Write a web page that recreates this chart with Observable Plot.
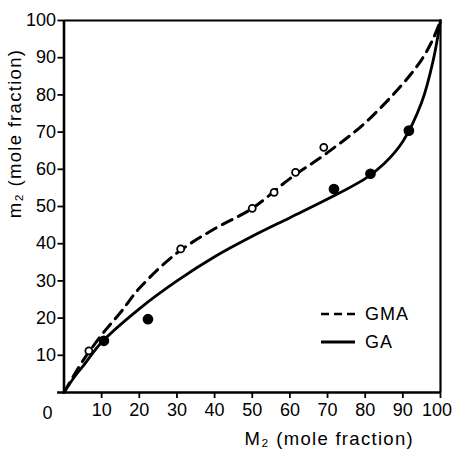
<!DOCTYPE html>
<html>
<head>
<meta charset="utf-8">
<script src="https://cdn.jsdelivr.net/npm/d3@7"></script>
<script src="https://cdn.jsdelivr.net/npm/@observablehq/plot@0.6"></script>
<style>
  html, body { margin: 0; padding: 0; background: #fff; }
  #wrap { position: relative; width: 454px; height: 450px; font-family: "Liberation Sans", Arial, sans-serif; }
  #legend { position: absolute; left: 320px; top: 300px; font-size: 18px; letter-spacing: 1px; color: #000; }
  #legend .row { display: flex; align-items: center; height: 28px; }
  #legend svg { display: block; margin-right: 9px; }
</style>
</head>
<body>
<div id="wrap"></div>
<script>
// Series names
const seriesNames = ["GMA", "GA"];

// Fitted curves
const gmaCurveX = [0, 2, 5, 10, 15, 20, 30, 40, 50, 60, 70, 80, 90, 95, 98, 100];
const gmaCurveY = [0, 3.5, 8.5, 15.5, 21.5, 28, 37.5, 44, 49.5, 57.5, 64.5, 72.5, 83, 89.5, 95, 100];
const gaCurveX  = [0, 3, 5, 10, 20, 30, 40, 50, 60, 70, 80, 85, 90, 95, 98, 100];
const gaCurveY  = [0, 4.5, 7, 13.5, 22.5, 30, 36.5, 42, 47, 52, 57.5, 61.5, 67.5, 78, 89, 100];

// Measured points
const gmaPtsX = [6.6, 31, 50, 55.8, 61.5, 69];
const gmaPtsY = [11.2, 38.6, 49.5, 53.8, 59.2, 65.9];
const gaPtsX  = [10.6, 22.3, 71.7, 81.4, 91.6];
const gaPtsY  = [13.9, 19.7, 54.7, 58.8, 70.4];

// Tick labels
const xTicks = [10, 20, 30, 40, 50, 60, 70, 80, 90, 100];
const yTicks = [10, 20, 30, 40, 50, 60, 70, 80, 90, 100];
const originLabel = "0";
const xLabel = "M\u2082 (mole fraction)";
const yLabel = "m\u2082 (mole fraction)";

const gmaCurve = gmaCurveX.map((x, i) => ({x, y: gmaCurveY[i]}));
const gaCurve = gaCurveX.map((x, i) => ({x, y: gaCurveY[i]}));
const gmaPts = gmaPtsX.map((x, i) => ({x, y: gmaPtsY[i]}));
const gaPts = gaPtsX.map((x, i) => ({x, y: gaPtsY[i]}));

const FS = 18;
const lastX = xTicks[xTicks.length - 1];
const chart = Plot.plot({
  width: 454,
  height: 450,
  marginLeft: 63.5,
  marginRight: 14,
  marginTop: 20,
  marginBottom: 58,
  style: {fontFamily: "Liberation Sans, Arial, sans-serif", fontSize: FS + "px", color: "#000", background: "#fff"},
  x: {domain: [0, 100]},
  y: {domain: [0, 100]},
  marks: [
    Plot.axisX({ticks: xTicks, tickSize: 6, tickPadding: 5, label: null, strokeWidth: 1.8, fontSize: FS,
                tickFormat: d => d === lastX ? "" : d}),
    Plot.axisX({ticks: [lastX], tickSize: 0, tickPadding: 11, label: null, fontSize: FS, dx: -3.5}),
    Plot.axisY({ticks: yTicks, tickSize: 6, tickPadding: 2, label: null, strokeWidth: 1.8, fontSize: FS}),
    Plot.ruleY([100], {x1: 0, x2: 100, strokeWidth: 2}),
    Plot.ruleX([100], {y1: 0, y2: 100, strokeWidth: 2.2}),
    Plot.ruleX([0], {y1: 0, y2: 100, strokeWidth: 2.6}),
    Plot.ruleY([0], {x1: -1.7, x2: 100, strokeWidth: 2.6}),
    Plot.line(gmaCurve, {x: "x", y: "y", curve: "catmull-rom", stroke: "#000", strokeWidth: 3, strokeDasharray: "11,7"}),
    Plot.line(gaCurve, {x: "x", y: "y", curve: "catmull-rom", stroke: "#000", strokeWidth: 2.8}),
    Plot.dot(gmaPts, {x: "x", y: "y", r: 3.5, fill: "#fff", stroke: "#000", strokeWidth: 1.8}),
    Plot.dot(gaPts, {x: "x", y: "y", r: 4.6, fill: "#000", stroke: "#000"}),
    Plot.text([originLabel], {x: () => 0, y: () => 0, text: d => d, dx: -16.5, dy: 21, fontSize: FS}),
    Plot.text([xLabel], {frameAnchor: "bottom", text: d => d, textAnchor: "middle", lineAnchor: "middle", dx: 77, dy: 47, fontSize: 18.5}),
    Plot.text([yLabel], {frameAnchor: "left", text: d => d, textAnchor: "middle", lineAnchor: "middle", rotate: -90, dx: -49, dy: -73, fontSize: 18.5})
  ]
});
// widen letter spacing of the two axis titles, like the reference lettering
d3.select(chart).selectAll("text").filter(function() {
  return this.textContent === xLabel || this.textContent === yLabel;
}).attr("letter-spacing", "1.3");

const wrap = document.getElementById("wrap");
wrap.appendChild(chart);

// Legend
const legend = document.createElement("div");
legend.id = "legend";
const styles = [{dash: "8,5", w: 2.6}, {dash: null, w: 3}];
seriesNames.forEach((name, i) => {
  const row = document.createElement("div");
  row.className = "row";
  const svg = d3.create("svg").attr("width", 36).attr("height", 10);
  const ln = svg.append("line").attr("x1", 1).attr("x2", 35).attr("y1", 5).attr("y2", 5)
    .attr("stroke", "#000").attr("stroke-width", styles[i].w);
  if (styles[i].dash) ln.attr("stroke-dasharray", styles[i].dash);
  row.appendChild(svg.node());
  const t = document.createElement("span");
  t.textContent = name;
  row.appendChild(t);
  legend.appendChild(row);
});
wrap.appendChild(legend);
</script>
</body>
</html>
